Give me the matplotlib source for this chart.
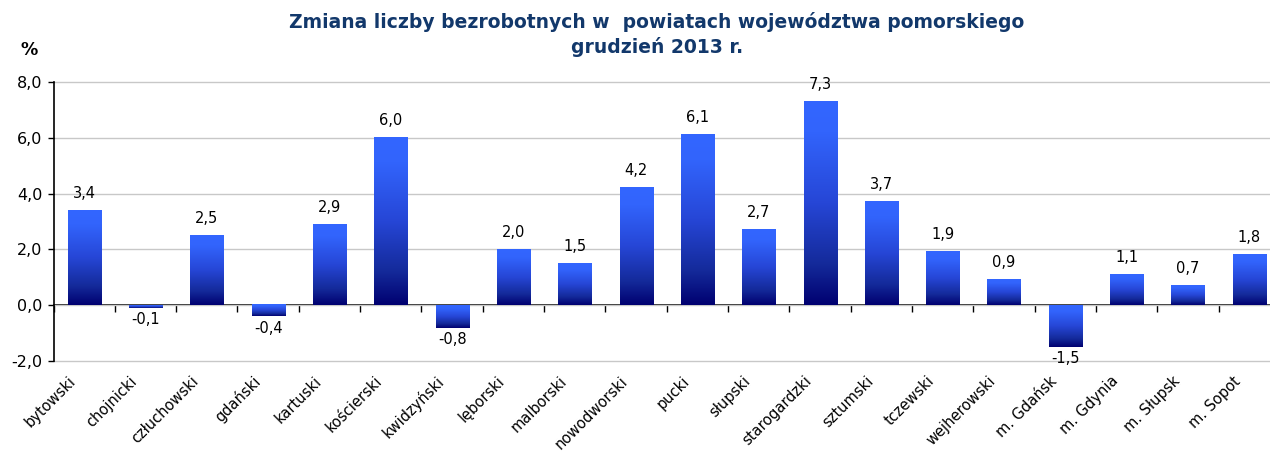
import matplotlib
matplotlib.use("Agg")
import matplotlib.pyplot as plt
import matplotlib.transforms as mtransforms
import numpy as np
from matplotlib.colors import LinearSegmentedColormap

# dane z wykresu
powiaty = ['bytowski', 'chojnicki', 'człuchowski', 'gdański', 'kartuski',
           'kościerski', 'kwidzyński', 'lęborski', 'malborski', 'nowodworski',
           'pucki', 'słupski', 'starogardzki', 'sztumski', 'tczewski',
           'wejherowski', 'm. Gdańsk', 'm. Gdynia', 'm. Słupsk', 'm. Sopot']
zmiana = [3.4, -0.1, 2.5, -0.4, 2.9, 6.0, -0.8, 2.0, 1.5, 4.2,
          6.1, 2.7, 7.3, 3.7, 1.9, 0.9, -1.5, 1.1, 0.7, 1.8]
y_ticks = [-2.0, 0.0, 2.0, 4.0, 6.0, 8.0]

title_color = '#12386b'
grad = LinearSegmentedColormap.from_list(
    'bar', [(0.0, '#3366ff'), (0.15, '#3264fc'), (0.5, '#2646d6'),
            (0.8, '#142a9a'), (1.0, '#000070')])

W, H = 1270, 453
fig = plt.figure(figsize=(W / 100, H / 100), dpi=100)
ax = fig.add_axes([53.5 / W, 92 / H, (1280 - 53.5) / W, 279 / H])

x = np.arange(len(powiaty))
bars = ax.bar(x, zmiana, width=0.54, facecolor='none', edgecolor='none', zorder=3)

# gradient w kazdym slupku (jasny u gory, ciemny u dolu)
g = np.linspace(0, 1, 256).reshape(-1, 1)
for b in bars:
    x0, y0 = b.get_x(), b.get_y()
    w, h = b.get_width(), b.get_height()
    ylo, yhi = min(y0, y0 + h), max(y0, y0 + h)
    ax.imshow(g, cmap=grad, extent=(x0, x0 + w, ylo, yhi), origin='upper',
              aspect='auto', zorder=3, interpolation='bilinear')

for xi, v in zip(x, zmiana):
    lab = ('%.1f' % v).replace('.', ',')
    if v >= 0:
        ax.annotate(lab, (xi, v), xytext=(0, 7), textcoords='offset points',
                    ha='center', va='bottom', fontsize=10.5, color='black')
    else:
        ax.annotate(lab, (xi, v), xytext=(0, -3), textcoords='offset points',
                    ha='center', va='top', fontsize=10.5, color='black')

ax.set_xlim(-0.5, len(powiaty) - 0.5)
ax.set_ylim(-2, 8)
ax.set_yticks(y_ticks)
ax.set_yticklabels([('%.1f' % t).replace('.', ',') for t in y_ticks], fontsize=11.5)
ax.tick_params(axis='y', direction='out', length=4, width=1, pad=4)
ax.yaxis.grid(True, color='#c8c8c8', linewidth=1)
for gl in ax.get_ygridlines():
    gl.set_clip_on(False)
ax.set_axisbelow(True)

ax.set_xticks(x)
ax.set_xticklabels(powiaty, rotation=45, ha='right', rotation_mode='anchor', fontsize=10.5)
ax.tick_params(axis='x', length=0, pad=9)
shift = mtransforms.ScaledTranslation(-0.16, 0, fig.dpi_scale_trans)
for lbl in ax.get_xticklabels():
    lbl.set_transform(lbl.get_transform() + shift)

for s in ['top', 'right', 'bottom']:
    ax.spines[s].set_visible(False)
ax.spines['left'].set_linewidth(1.2)

# os zero z kreskami miedzy kategoriami
sec = ax.secondary_xaxis(0.2)
sec.set_xticks(np.arange(-0.5, len(powiaty), 1.0))
sec.set_xticklabels([])
sec.tick_params(direction='out', length=5, width=1)
sec.spines['bottom'].set_linewidth(1.2)

fig.text(657 / W, 1 - 22 / H, 'Zmiana liczby bezrobotnych w  powiatach województwa pomorskiego',
         ha='center', va='center', fontsize=13.5, fontweight='bold', color=title_color)
fig.text(657 / W, 1 - 47 / H, 'grudzień 2013 r.',
         ha='center', va='center', fontsize=13.5, fontweight='bold', color=title_color)
fig.text(29 / W, 1 - 50 / H, '%', ha='center', va='center', fontsize=12.5, fontweight='bold')

fig.savefig('out.png', dpi=100)
